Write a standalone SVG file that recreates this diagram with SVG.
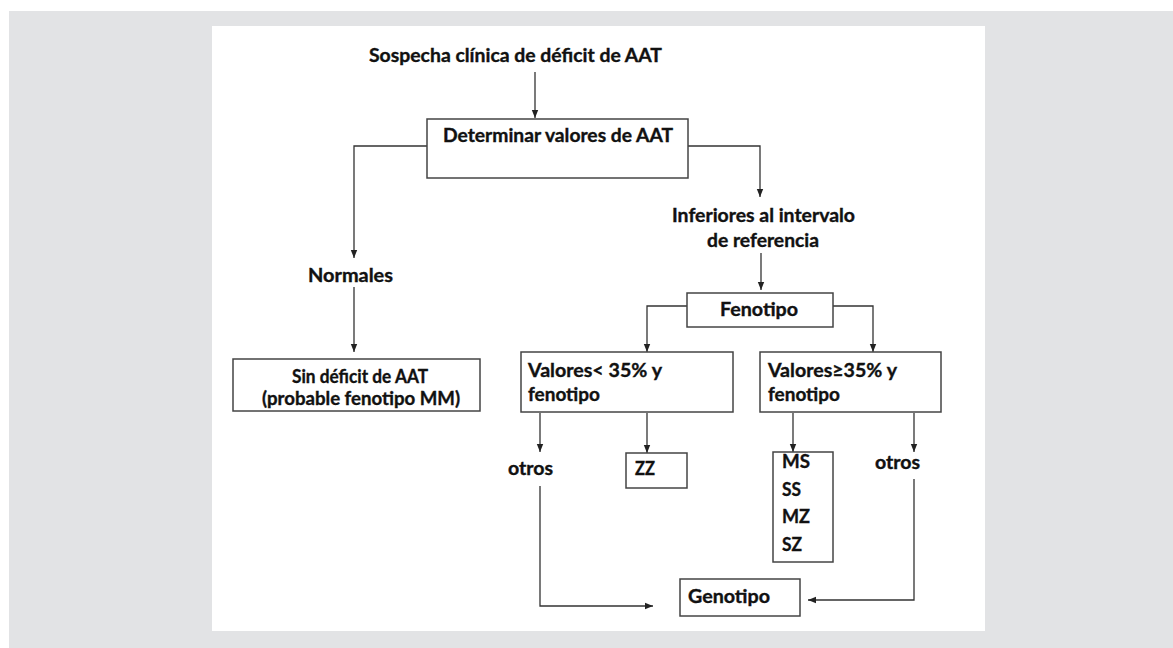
<svg xmlns="http://www.w3.org/2000/svg" width="1173" height="648" viewBox="0 0 1173 648">
<style>
text{font-family:Lato,"Liberation Sans",sans-serif;font-weight:bold;font-size:18px;fill:#111;stroke:#111;stroke-width:0.35}
.t{font-size:18px}
.box{fill:#fff;stroke:#444;stroke-width:1.5}
.ln{fill:none;stroke:#333;stroke-width:1.3}
</style>
<defs>
<marker id="ah" markerUnits="userSpaceOnUse" markerWidth="8" markerHeight="8" viewBox="0 0 8 8" refX="8" refY="4" orient="auto">
<path d="M0,0.8 L8,4 L0,7.2 Z" fill="#222"/>
</marker>
</defs>
<rect width="1173" height="648" fill="#fff"/>
<rect x="9" y="11" width="1164" height="637" fill="#e2e3e5"/>
<rect x="212" y="26" width="773" height="605" fill="#fff"/>

<g id="connectors">
<path class="ln" d="M535,72 V118" marker-end="url(#ah)"/>
<path class="ln" d="M427,146 H354 V258" marker-end="url(#ah)"/>
<path class="ln" d="M688,146 H760 V197" marker-end="url(#ah)"/>
<path class="ln" d="M354,287 V352" marker-end="url(#ah)"/>
<path class="ln" d="M761,253 V290" marker-end="url(#ah)"/>
<path class="ln" d="M687,306 H647 V352" marker-end="url(#ah)"/>
<path class="ln" d="M833,306 H873 V352" marker-end="url(#ah)"/>
<path class="ln" d="M540,413 V452" marker-end="url(#ah)"/>
<path class="ln" d="M647,413 V453" marker-end="url(#ah)"/>
<path class="ln" d="M793,413 V452" marker-end="url(#ah)"/>
<path class="ln" d="M914,413 V452" marker-end="url(#ah)"/>
<path class="ln" d="M540,486 V606 H653" marker-end="url(#ah)"/>
<path class="ln" d="M914,479 V600 H808" marker-end="url(#ah)"/>
</g>

<g id="title"><text class="t" x="369" y="62" textLength="293" lengthAdjust="spacingAndGlyphs">Sospecha clínica de déficit de AAT</text></g>

<g id="determinar">
<rect class="box" x="427" y="119" width="261" height="59"/>
<text x="443" y="142" textLength="230" lengthAdjust="spacingAndGlyphs">Determinar valores de AAT</text>
</g>

<g id="normales"><text x="308" y="282" textLength="85" lengthAdjust="spacingAndGlyphs">Normales</text></g>

<g id="inferiores">
<text x="672" y="222" textLength="183" lengthAdjust="spacingAndGlyphs">Inferiores al intervalo</text>
<text x="707" y="247" textLength="112" lengthAdjust="spacingAndGlyphs">de referencia</text>
</g>

<g id="fenotipo">
<rect class="box" x="687" y="293" width="146" height="34"/>
<text x="720" y="316" textLength="78" lengthAdjust="spacingAndGlyphs">Fenotipo</text>
</g>

<g id="sindeficit">
<rect class="box" x="233" y="359" width="247" height="52"/>
<text x="292" y="383" textLength="136" lengthAdjust="spacingAndGlyphs">Sin déficit de AAT</text>
<text x="262" y="405" textLength="198" lengthAdjust="spacingAndGlyphs">(probable fenotipo MM)</text>
</g>

<g id="menor35">
<rect class="box" x="521" y="352" width="212" height="60"/>
<text x="528" y="377" textLength="134" lengthAdjust="spacingAndGlyphs">Valores&lt; 35% y</text>
<text x="528" y="401" textLength="72" lengthAdjust="spacingAndGlyphs">fenotipo</text>
</g>

<g id="mayor35">
<rect class="box" x="760" y="352" width="181" height="60"/>
<text x="768" y="377" textLength="129" lengthAdjust="spacingAndGlyphs">Valores≥35% y</text>
<text x="768" y="401" textLength="72" lengthAdjust="spacingAndGlyphs">fenotipo</text>
</g>

<g id="otros1"><text x="508" y="475" textLength="45" lengthAdjust="spacingAndGlyphs">otros</text></g>

<g id="zz">
<rect class="box" x="626" y="453" width="61" height="35"/>
<text x="635" y="475" textLength="20" lengthAdjust="spacingAndGlyphs">ZZ</text>
</g>

<g id="ms">
<rect class="box" x="773" y="452" width="60" height="110"/>
<text x="782" y="468" textLength="28" lengthAdjust="spacingAndGlyphs">MS</text>
<text x="782" y="496" textLength="19" lengthAdjust="spacingAndGlyphs">SS</text>
<text x="782" y="523" textLength="28" lengthAdjust="spacingAndGlyphs">MZ</text>
<text x="782" y="551" textLength="20" lengthAdjust="spacingAndGlyphs">SZ</text>
</g>

<g id="otros2"><text x="875" y="469" textLength="45" lengthAdjust="spacingAndGlyphs">otros</text></g>

<g id="genotipo">
<rect class="box" x="680" y="579" width="120" height="37"/>
<text x="688" y="603" textLength="82" lengthAdjust="spacingAndGlyphs">Genotipo</text>
</g>
</svg>
